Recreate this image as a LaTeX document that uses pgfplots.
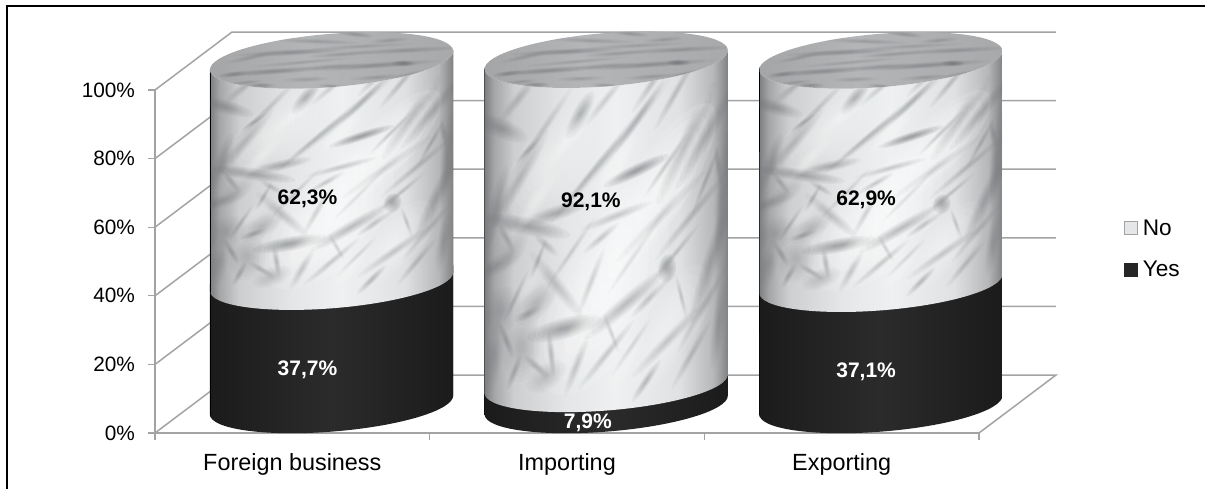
\documentclass[border=0pt]{standalone}
\usepackage{fontspec}
\setmainfont{Liberation Sans}
\usepackage{pgfplots}
\usepackage{pgfplotstable}
\pgfplotsset{compat=1.18}

\definecolor{gridgray}{HTML}{A3A3A3}
\definecolor{yesdark}{HTML}{262626}
\definecolor{m0}{HTML}{7D7E80}
\definecolor{m1}{HTML}{A5A6A8}
\definecolor{m2}{HTML}{CDCECF}
\definecolor{m3}{HTML}{E4E6E7}
\definecolor{m4}{HTML}{EEF0F1}
\definecolor{m5}{HTML}{DFE1E3}
\definecolor{m6}{HTML}{B6B7B9}
\definecolor{m7}{HTML}{808183}
\definecolor{d0}{HTML}{1B1B1B}
\definecolor{d1}{HTML}{2B2B2B}
\definecolor{veincol}{HTML}{6A6D70}
\definecolor{capA}{HTML}{A4A5A7}
\definecolor{capB}{HTML}{B4B5B7}
\definecolor{capC}{HTML}{A8A9AB}

% the stops 25bp..75bp span the cylinder from edge to edge
\pgfdeclarehorizontalshading{marblebody}{100bp}{color(0bp)=(m0); color(25bp)=(m0); color(27bp)=(m1);
  color(31bp)=(m2); color(42bp)=(m3); color(52bp)=(m4); color(65bp)=(m5); color(72bp)=(m6);
  color(75bp)=(m7); color(100bp)=(m7)}
\pgfdeclarehorizontalshading{darkbody}{100bp}{color(0bp)=(d0); color(25bp)=(d0); color(50bp)=(d1);
  color(75bp)=(d0); color(100bp)=(d0)}
\pgfdeclarehorizontalshading{capbody}{100bp}{color(0bp)=(capA); color(25bp)=(capA); color(45bp)=(capB);
  color(75bp)=(capC); color(100bp)=(capC)}

% value units to points on the cylinder's own scale
\newcommand{\cylunit}{3.455}
% ellipse half-axes of a tilted cylinder section
\newcommand{\axA}{\pgfpoint{121.6pt}{9.8pt}}
\newcommand{\axB}{\pgfpoint{-2.2pt}{26.5pt}}

% closed outline of a cylinder slice of height #1 (pt)
\newcommand{\cylpath}[1]{%
  \pgfpathmoveto{\pgfpoint{-121.6pt}{-9.3pt}}%
  \pgfpatharcaxes{178.96}{358.96}{\axA}{\axB}%
  \pgfmathsetlengthmacro{\cyltop}{#1+9.3pt}%
  \pgfpathlineto{\pgfpoint{121.6pt}{\cyltop}}%
  \pgfpatharcaxes{358.96}{178.96}{\axA}{\axB}%
  \pgfpathclose}

% one ellipse of a streak, at size #1
\newcommand{\streakring}[1]{%
  \pgfpathellipse{\pgfpoint{\scx pt}{\scy pt}}%
    {\pgfpoint{#1*\sax pt}{#1*\say pt}}{\pgfpoint{#1*\sbx pt}{#1*\sby pt}}%
  \pgfusepath{fill}}

% feathered streak, built of nested faint ellipses:
% centre x, y, half length, half thickness, angle, colour, opacity
\newcommand{\streak}[7]{%
  \begin{pgfscope}%
    \pgfmathsetmacro{\scx}{#1}\pgfmathsetmacro{\scy}{#2}%
    \pgfmathsetmacro{\sax}{(#3)*cos(#5)}\pgfmathsetmacro{\say}{(#3)*sin(#5)}%
    \pgfmathsetmacro{\sbx}{-(#4)*sin(#5)}\pgfmathsetmacro{\sby}{(#4)*cos(#5)}%
    \pgfmathsetmacro{\sop}{.125*(#7)}%
    \pgfsetfillcolor{#6}\pgfsetfillopacity{\sop}%
    \streakring{1.7}\streakring{1.45}\streakring{1.2}\streakring{1.0}%
    \streakring{.8}\streakring{.6}\streakring{.42}\streakring{.25}%
  \end{pgfscope}}

\newcommand{\marbletexture}{%
  % bright drifts running up to the right
  \streak{-5}{60}{50}{26}{45}{white}{1}%
  \streak{50}{132}{48}{15}{45}{white}{1}%
  \streak{-58}{150}{34}{15}{40}{white}{.6}%
  \streak{62}{38}{32}{12}{50}{white}{.7}%
  % grey mottling
  \foreach \vx/\vy/\vl/\vt/\va/\vo in {
    -80/108/26/3.6/-8/.55, -50/117/18/3/12/.5, -87/140/26/3.6/50/.35, 30/146/20/2.6/18/.8,
    -26/184/12/4/50/.55, 61/79/6/5/60/.9, -42/38/22/4.2/10/.7, 20/55/28/3.5/30/.45,
    -85/25/14/11/80/.3, -105/50/12/9/30/.3, 80/165/30/4/55/.35, 12/165/40/2.6/40/.3,
    105/85/28/4/65/.4, 40/2/12/2/45/.45, 62/30/26/2.6/35/.3, -105/175/16/4.2/-15/.5,
    100/170/28/3.6/50/.4, 112/40/18/3.6/80/.35, 10/115/22/2/15/.3, -50/68/20/3.5/-40/.3,
    -15/70/16/2/60/.25, -110/120/18/4/70/.4, -112/80/16/3.5/20/.35, 35/185/22/2/45/.3,
    55/115/32/2.4/35/.3, 0/20/22/2/40/.3, 85/115/28/2/40/.3, -20/140/28/1.8/40/.3,
    -65/172/28/2/45/.25, -60/5/12/5.5/20/.3, -30/12/14/2.6/60/.3, 95/50/22/2/50/.3,
    70/200/20/2/50/.35, -95/90/12/5.5/40/.25, -70/55/14/6/30/.3, 45/60/14/2/35/.4,
    -5/100/12/1.8/30/.3, 85/20/18/2/50/.3, -112/20/14/5/80/.35, 116/125/28/3.5/85/.4,
    0/195/18/2/40/.25, -88/195/14/2.6/40/.3, 45/205/16/2/45/.3, 70/90/18/1.5/40/.3,
    -35/90/20/1.5/45/.25, 30/90/24/1.5/45/.2, 25/25/16/1.5/45/.25, -68/85/10/1.5/60/.35,
    -78/160/9/1.5/35/.35, 100/140/16/1.5/60/.35, 60/150/18/1.5/45/.3, -90/60/12/1.5/55/.35,
    -100/30/8/2/120/.45, -78/48/8/2/20/.45, -92/8/8/2/60/.45, -70/12/8/2/150/.4,
    -55/20/9/2/100/.4, -100/100/8/2/130/.35, -60/95/8/2/150/.3, 112/150/8/2/100/.35,
    75/60/9/1.5/110/.3, 5/35/9/1.5/120/.25}
    {\streak{\vx}{\vy}{\vl}{\vt}{\va}{veincol}{\vo}}%
  % pale flecks breaking the veins up
  \foreach \vx/\vy/\vl/\vt/\va/\vo in {
    -70/125/16/4/45/.55, -20/40/20/6/45/.5, 35/100/20/5/40/.6, 10/150/18/4/45/.6,
    70/125/16/4/45/.45, 55/70/14/4/50/.5, -75/70/12/4/40/.4, -35/170/18/4/40/.5,
    90/40/12/3/55/.35, 20/15/16/4/50/.55, 95/190/10/3/50/.3}
    {\streak{\vx}{\vy}{\vl}{\vt}{\va}{white}{\vo}}}

\newcommand{\captexture}{%
  \foreach \vx/\vy/\vl/\vt/\va/\vo in {
    -40/8/32/1.8/3/.55, -58/-11/32/1.8/4/.55, 24/26/11/1.5/-6/.45, 44/-5/38/1.8/4/.55,
    -70/-25/8/1.4/0/.55, 0/-26/8/1.4/-5/.45, 74/10/34/1.6/3/.4, -98/-14/9/1.6/8/.5,
    72/-3/7/1.8/0/.85, -15/19/26/1.5/-2/.35, 45/-17/16/1.5/4/.35, 10/6/20/1.5/4/.3,
    -80/3/16/1.5/12/.3, 80/-14/12/1.5/10/.3, -25/-19/14/1.5/2/.3, 0/-6/18/1.4/4/.3,
    58/20/12/1.5/5/.3, -30/-2/30/1.2/5/.25, 30/14/30/1.2/3/.25, -85/-22/10/1.2/5/.3}
    {\streak{\vx}{\vy}{\vl}{\vt}{\va}{veincol}{\vo}}}

% the lower slice of a cylinder; \segval is the slice's value
\pgfdeclareplotmark{yesslice}{%
  \begin{pgfscope}
    \pgftransformshift{\pgfpoint{39.2pt}{28pt}}%
    \pgfmathsetmacro{\segh}{\segval*\cylunit}%
    \cylpath{\segh pt}\pgfusepath{clip}%
    \begin{scope}[x=1pt,y=1pt]
      \shade[shading=darkbody] (-121.7,-60) rectangle (121.7,\segh+60);
    \end{scope}
  \end{pgfscope}}

% the upper slice in marble, its seam lying a little low in perspective, with the lid on top
\pgfdeclareplotmark{noslice}{%
  \begin{pgfscope}
    \pgftransformshift{\pgfpoint{39.2pt}{22pt}}%
    \pgfmathsetmacro{\segh}{\segval*\cylunit+6}%
    \pgfmathsetmacro{\segscale}{\segh/222}%
    \begin{pgfscope}
      \cylpath{\segh pt}\pgfusepath{clip}%
      \begin{scope}[x=1pt,y=1pt]
        \shade[shading=marblebody] (-121.7,-60) rectangle (121.7,\segh+60);
      \end{scope}
      \pgftransformyscale{\segscale}%
      \marbletexture
    \end{pgfscope}
    \pgftransformshift{\pgfpoint{0pt}{\segh pt}}%
    \pgfpathmoveto{\axA}%
    \pgfpatharcaxes{0}{360}{\axA}{\axB}%
    \pgfpathclose
    \pgfusepath{clip}%
    \begin{scope}[x=1pt,y=1pt]
      \shade[shading=capbody] (-122,-32) rectangle (122,32);
    \end{scope}
    \captexture
  \end{pgfscope}}

\pgfplotstableread{
x   base  val
0.5 0     37.7
1.5 0     7.9
2.5 0     37.1
}\yesdata
\pgfplotstableread{
x   base  val
0.5 37.7  62.3
1.5 7.9   92.1
2.5 37.1  62.9
}\nodata

\begin{document}
\begin{tikzpicture}[x=1pt,y=1pt]
  \useasboundingbox (0,0) rectangle (1205,489);
  \draw[black,line width=1.3pt] (7,0) -- (7,483) -- (1205,483);
  \begin{axis}[
    at={(155pt,56pt)}, anchor=south west, scale only axis,
    width=824pt, height=343pt,
    xmin=0, xmax=3, ymin=0, ymax=100, clip=false,
    axis x line=bottom, axis y line=left,
    axis line style={draw=gridgray,line width=1.3pt,-},
    xtick={0,1,2,3}, x tick label as interval,
    xticklabels={Foreign business,Importing,Exporting},
    ytick={0,20,40,60,80,100},
    yticklabel={\pgfmathprintnumber{\tick}\%},
    /pgf/number format/assume math mode=true,
    tick align=outside, major tick length=7pt,
    tick style={draw=gridgray,line width=1.3pt},
    x tick label style={font=\fontsize{23.4}{26}\selectfont, yshift=-10pt},
    y tick label style={font=\fontsize{20.8}{24}\selectfont, xshift=-9.5pt},
    legend style={at={(1.172,0.634)},anchor=north west,draw=none,fill=none,
      font=\fontsize{22.6}{26}\selectfont,row sep=20.5pt},
    legend cell align=left,
    legend image code/.code={\draw[#1] (0pt,-6.5pt) rectangle (13pt,6.5pt);},
  ]
    \addlegendimage{draw=gridgray,fill=m3,line width=.9pt}
    \addlegendimage{draw=yesdark,fill=yesdark,line width=.8pt}

    % receding walls: each gridline runs back along the side wall, then along the rear wall
    \addplot[forget plot,gridgray,line width=1.5pt] coordinates {(0,0) (0.2803,16.9) (3.2803,16.9) (3,0)};
    \addplot[forget plot,gridgray,line width=1.5pt] coordinates {(0,20) (0.2803,36.9) (3.2803,36.9)};
    \addplot[forget plot,gridgray,line width=1.5pt] coordinates {(0,40) (0.2803,56.9) (3.2803,56.9)};
    \addplot[forget plot,gridgray,line width=1.5pt] coordinates {(0,60) (0.2803,76.9) (3.2803,76.9)};
    \addplot[forget plot,gridgray,line width=1.5pt] coordinates {(0,80) (0.2803,96.9) (3.2803,96.9)};
    \addplot[forget plot,gridgray,line width=1.5pt] coordinates {(0,100) (0.2803,116.9) (3.2803,116.9)};

    \addplot[forget plot,scatter,only marks,mark=yesslice,point meta=\thisrow{val},
      visualization depends on={\thisrow{val} \as \segval},
      scatter/@pre marker code/.code={\pgfscope},
      scatter/@post marker code/.code={\endpgfscope}]
      table[x=x,y=base] {\yesdata};
    \addplot[forget plot,scatter,only marks,mark=noslice,point meta=\thisrow{val},
      visualization depends on={\thisrow{val} \as \segval},
      scatter/@pre marker code/.code={\pgfscope},
      scatter/@post marker code/.code={\endpgfscope}]
      table[x=x,y=base] {\nodata};

    % value labels
    \addplot[forget plot,draw=none,mark=none,point meta=\thisrow{val},
      nodes near coords={\pgfmathprintnumber[fixed,fixed zerofill,precision=1,use comma,assume math mode=true]{\pgfplotspointmeta}\%},
      nodes near coords align=center,
      every node near coord/.append style={black,anchor=center,inner sep=0pt,
        font=\fontsize{21}{24}\selectfont\bfseries}]
      table[x=x,y=y] {
      x     y    val
      0.555 68.2 62.3
      1.587 67.3 92.1
      2.589 67.9 62.9
      };
    \addplot[forget plot,draw=none,mark=none,point meta=\thisrow{val},
      nodes near coords={\pgfmathprintnumber[fixed,fixed zerofill,precision=1,use comma,assume math mode=true]{\pgfplotspointmeta}\%},
      nodes near coords align=center,
      every node near coord/.append style={white,anchor=center,inner sep=0pt,
        font=\fontsize{21}{24}\selectfont\bfseries}]
      table[x=x,y=y] {
      x     y    val
      0.555 18.4 37.7
      1.576 2.9  7.9
      2.589 17.8 37.1
      };
    \legend{\hspace{3pt}No,\hspace{3pt}Yes}
  \end{axis}
\end{tikzpicture}
\end{document}
